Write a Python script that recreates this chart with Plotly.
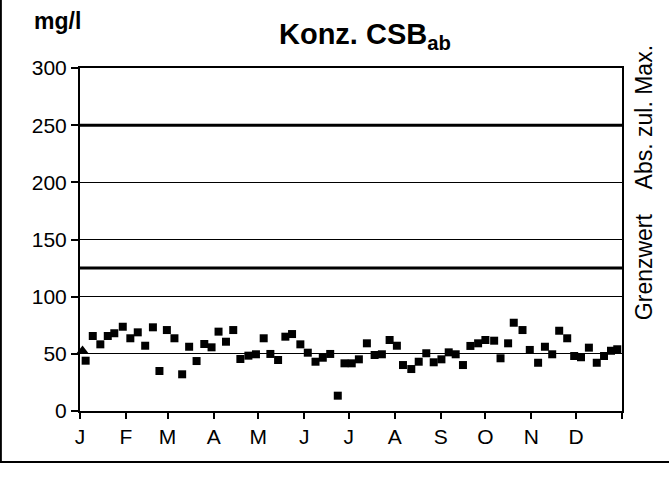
import plotly.graph_objects as go

# Day of year and concentration (mg/l)
days = [3.8, 8.6, 13.7, 18.7, 23.1, 28.8, 33.9, 38.9, 43.9, 49.1, 53.5, 58.5, 63.6, 68.8,
        73.5, 78.5, 83.7, 88.6, 93.3, 98.3, 103.2, 108.0, 113.4, 118.5, 123.7, 128.2, 133.4,
        138.3, 142.8, 148.4, 153.4, 158.6, 163.5, 168.5, 173.6, 178.1, 183.0, 187.8, 193.2,
        198.4, 203.3, 208.5, 213.4, 217.5, 223.1, 228.1, 233.2, 238.2, 243.4, 248.3, 253.0,
        257.9, 262.9, 268.1, 273.0, 278.9, 283.2, 288.3, 292.1, 298.0, 302.9, 308.5, 313.1,
        318.0, 322.7, 328.1, 332.8, 337.4, 342.7, 348.0, 352.9, 357.6, 361.8]
values = [44, 65.6, 58.3, 65.6, 68.0, 73.7, 63.6, 68.8, 57.1, 73.2, 35.0, 70.8, 63.6, 32.1,
          56.2, 43.7, 58.6, 55.7, 69.4, 60.6, 70.8, 45.5, 48.4, 49.6, 63.6, 49.9, 44.6,
          65.0, 67.3, 58.3, 51.0, 43.1, 46.6, 49.9, 13.4, 41.7, 41.7, 45.2, 59.2,
          49.0, 49.6, 62.1, 57.1, 40.2, 36.7, 43.1, 50.5, 42.6, 45.2, 51.3, 49.6,
          40.2, 56.9, 59.2, 62.1, 61.5, 46.1, 59.2, 77.2, 70.8, 53.4, 42.2, 56.2,
          49.6, 70.2, 63.6, 48.1, 47.0, 55.4, 42.2, 48.1, 52.7, 54.0]
tri_day = [1.7]
tri_value = [52.5]

month_starts = [0, 31, 59, 90, 120, 151, 181, 212, 243, 273, 304, 334]
month_labels = ["J", "F", "M", "A", "M", "J", "J", "A", "S", "O", "N", "D"]
year_end = 365
y_ticks = [0, 50, 100, 150, 200, 250, 300]
grenzwert = 125
abs_max = 250

FONT = "Arial, Liberation Sans, Helvetica, sans-serif"

fig = go.Figure()
fig.add_trace(go.Scatter(x=days, y=values, mode="markers",
                         marker=dict(symbol="square", size=8, color="black"),
                         showlegend=False, cliponaxis=False, hoverinfo="skip"))
fig.add_trace(go.Scatter(x=tri_day, y=tri_value, mode="markers",
                         marker=dict(symbol="triangle-up", size=11, color="black"),
                         showlegend=False, cliponaxis=False, hoverinfo="skip"))

for lvl in (grenzwert, abs_max):
    fig.add_shape(type="line", xref="x", yref="y", x0=0, x1=year_end, y0=lvl, y1=lvl,
                  line=dict(color="black", width=3), layer="below")

# outer frame (left & bottom)
fig.add_shape(type="line", xref="paper", yref="paper", x0=-0.146, x1=-0.146, y0=1.2, y1=-0.149,
              line=dict(color="black", width=2))
fig.add_shape(type="line", xref="paper", yref="paper", x0=-0.148, x1=1.09, y0=-0.149, y1=-0.149,
              line=dict(color="black", width=2))

fig.update_layout(
    width=669, height=484,
    margin=dict(l=80, r=47, t=68, b=73),
    paper_bgcolor="white", plot_bgcolor="white",
    font=dict(family=FONT, color="black", size=21),
    xaxis=dict(range=[0, year_end], tickmode="array", tickvals=month_starts, ticktext=month_labels,
               showgrid=False, zeroline=False, showline=True, linecolor="black", linewidth=2,
               mirror=True, ticks="outside", ticklen=6, tickwidth=1.5, tickcolor="black",
               tickfont=dict(size=21, family=FONT),
               minor=dict(tickvals=[year_end], ticks="outside", ticklen=6, tickwidth=1.5,
                          tickcolor="black", showgrid=False)),
    yaxis=dict(range=[0, 300], tickmode="array", tickvals=y_ticks,
               showgrid=True, gridcolor="black", gridwidth=1, zeroline=False,
               showline=True, linecolor="black", linewidth=2, mirror=True,
               ticks="outside", ticklen=7, tickwidth=1.5, tickcolor="black",
               tickfont=dict(size=21, family=FONT)),
    annotations=[
        dict(text="<b>mg/l</b>", xref="paper", yref="paper", x=-0.042, y=1.181,
             xanchor="center", yanchor="top",
             showarrow=False, font=dict(size=23, family=FONT)),
        dict(text="<b>Konz. CSB<sub>ab</sub></b>", xref="paper", yref="paper", x=0.526, y=1.152,
             xanchor="center", yanchor="top",
             showarrow=False, font=dict(size=29, family=FONT)),
        dict(text="Abs. zul. Max.", xref="paper", yref="y", x=1.041, y=257, textangle=-90,
             xanchor="center", yanchor="middle",
             showarrow=False, font=dict(size=23, family=FONT)),
        dict(text="Grenzwert", xref="paper", yref="y", x=1.041, y=126, textangle=-90,
             xanchor="center", yanchor="middle",
             showarrow=False, font=dict(size=23, family=FONT)),
    ],
)

fig.write_html("out.html", config={"displayModeBar": False},
               post_script="document.body.style.margin='0';")
